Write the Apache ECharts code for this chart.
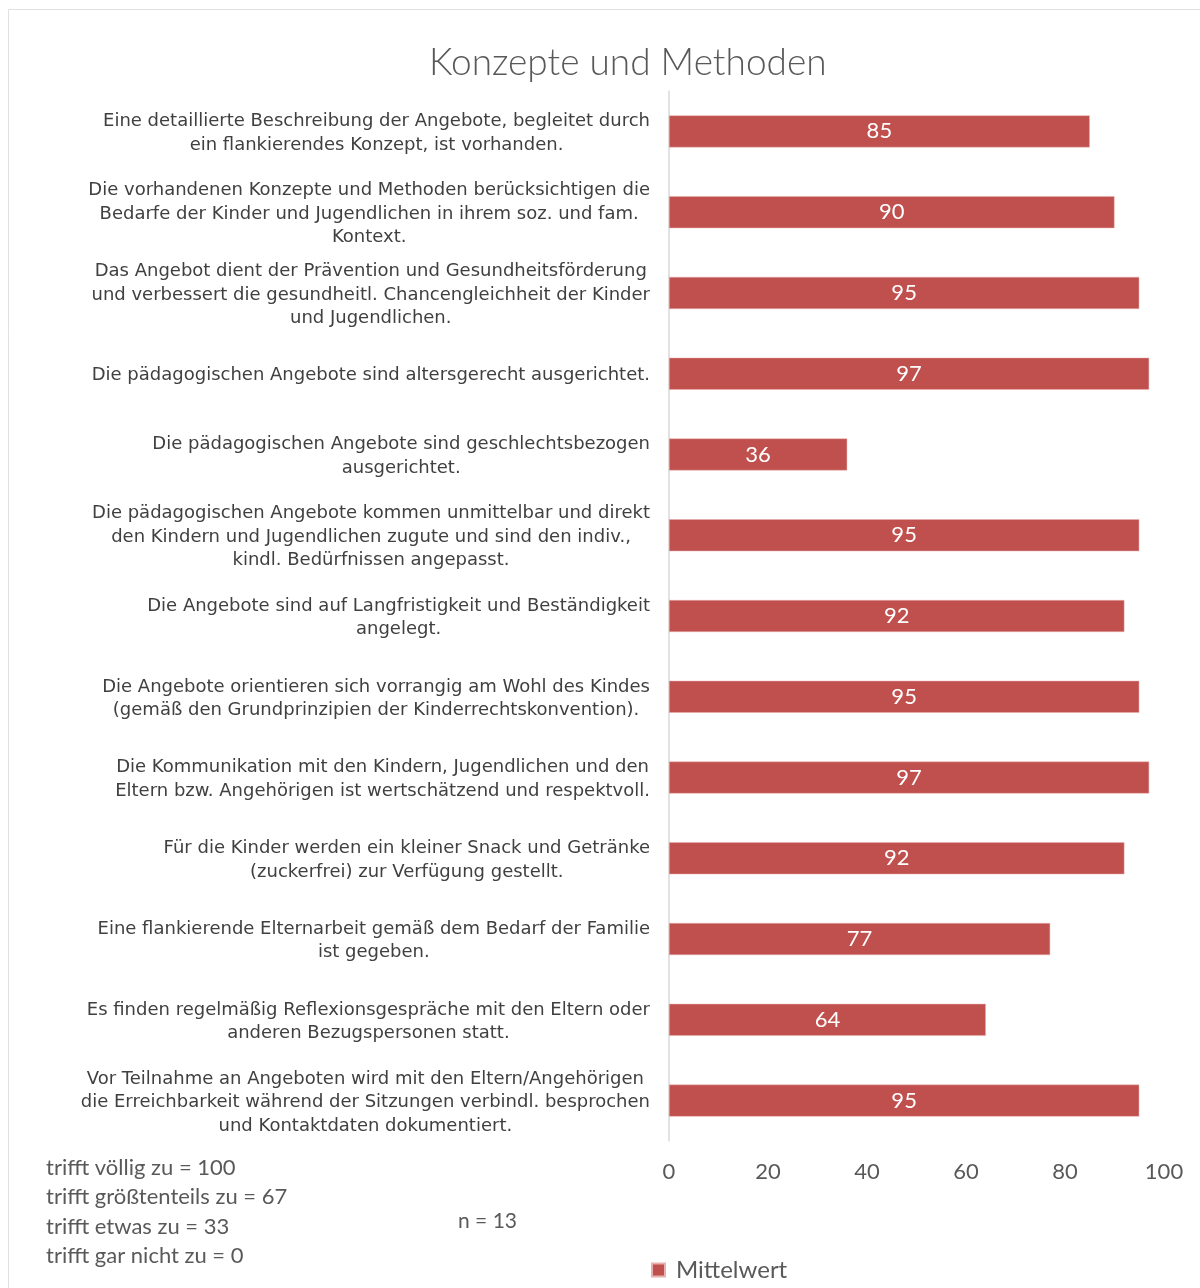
<!DOCTYPE html>
<html>
<head>
<meta charset="utf-8">
<script src="https://cdn.jsdelivr.net/npm/echarts@6/dist/echarts.min.js"></script>
<style>
  html, body { margin: 0; padding: 0; background: #fff; }
  #chart { width: 1200px; height: 1288px; }
</style>
</head>
<body>
<div id="chart"></div>
<script>
// Statements rated in the survey (line breaks as they should wrap)
const categories = [
  'Eine detaillierte Beschreibung der Angebote, begleitet durch\nein flankierendes Konzept, ist vorhanden.',
  'Die vorhandenen Konzepte und Methoden berücksichtigen die\nBedarfe der Kinder und Jugendlichen in ihrem soz. und fam.\nKontext.',
  'Das Angebot dient der Prävention und Gesundheitsförderung\nund verbessert die gesundheitl. Chancengleichheit der Kinder\nund Jugendlichen.',
  'Die pädagogischen Angebote sind altersgerecht ausgerichtet.',
  'Die pädagogischen Angebote sind geschlechtsbezogen\nausgerichtet.',
  'Die pädagogischen Angebote kommen unmittelbar und direkt\nden Kindern und Jugendlichen zugute und sind den indiv.,\nkindl. Bedürfnissen angepasst.',
  'Die Angebote sind auf Langfristigkeit und Beständigkeit\nangelegt.',
  'Die Angebote orientieren sich vorrangig am Wohl des Kindes\n(gemäß den Grundprinzipien der Kinderrechtskonvention).',
  'Die Kommunikation mit den Kindern, Jugendlichen und den\nEltern bzw. Angehörigen ist wertschätzend und respektvoll.',
  'Für die Kinder werden ein kleiner Snack und Getränke\n(zuckerfrei) zur Verfügung gestellt.',
  'Eine flankierende Elternarbeit gemäß dem Bedarf der Familie\nist gegeben.',
  'Es finden regelmäßig Reflexionsgespräche mit den Eltern oder\nanderen Bezugspersonen statt.',
  'Vor Teilnahme an Angeboten wird mit den Eltern/Angehörigen\ndie Erreichbarkeit während der Sitzungen verbindl. besprochen\nund Kontaktdaten dokumentiert.'
];

// Mean score per statement
const mittelwert = [85, 90, 95, 97, 36, 95, 92, 95, 97, 92, 77, 64, 95];

// Scale explanation and sample size
const scaleNotes = [
  'trifft völlig zu = 100',
  'trifft größtenteils zu = 67',
  'trifft etwas zu = 33',
  'trifft gar nicht zu = 0'
];
const sampleNote = 'n = 13';

const labelFont = 'DejaVu Sans';
const axisFont = 'Lato';

const chart = echarts.init(document.getElementById('chart'), null, { renderer: 'canvas' });

chart.setOption({
  backgroundColor: '#ffffff',
  animation: false,
  title: {
    text: 'Konzepte und Methoden',
    left: 424,
    top: 40,
    textStyle: { fontFamily: axisFont, fontWeight: 300, fontSize: 37, color: '#595959' }
  },
  legend: {
    data: ['Mittelwert'],
    left: 646,
    top: 1253,
    itemWidth: 13,
    itemHeight: 13,
    icon: 'rect',
    itemGap: 10,
    textStyle: { fontFamily: axisFont, fontSize: 24, color: '#595959', padding: [0, 0, 0, 6] }
  },
  grid: { left: 669, right: 36, top: 91, bottom: 147, containLabel: false },
  xAxis: {
    type: 'value',
    min: 0,
    max: 100,
    interval: 20,
    axisLine: { show: false },
    axisTick: { show: false },
    splitLine: { show: false },
    axisLabel: { margin: 20, fontFamily: axisFont, fontSize: 22, color: '#595959' }
  },
  yAxis: {
    type: 'category',
    inverse: true,
    data: categories,
    axisLine: { show: true, lineStyle: { color: '#d9d9d9', width: 1.5 } },
    axisTick: { show: false },
    axisLabel: {
      margin: 19,
      align: 'right',
      padding: [4, 0, 0, 0],
      // each line centred within the label block
      formatter: function (value) {
        return value.split('\n').map(function (line) { return '{c|' + line + '}'; }).join('\n');
      },
      rich: {
        c: {
          align: 'center',
          fontFamily: labelFont,
          fontSize: 18,
          lineHeight: 23.5,
          color: '#404040'
        }
      }
    }
  },
  series: [{
    name: 'Mittelwert',
    type: 'bar',
    data: mittelwert,
    barWidth: 32,
    itemStyle: { color: '#C0504D', borderColor: '#e8b0ae', borderWidth: 0.5 },
    label: {
      show: true,
      position: 'inside',
      color: '#ffffff',
      fontFamily: axisFont,
      fontSize: 22
    }
  }],
  graphic: [
    {
      type: 'rect',
      shape: { x: 8.5, y: 9.5, width: 1300, height: 1400 },
      style: { fill: 'none', stroke: '#e0e0e0', lineWidth: 1 },
      silent: true
    },
    {
      type: 'text',
      left: 46,
      top: 1153,
      style: {
        text: scaleNotes.join('\n'),
        fontFamily: axisFont,
        fontSize: 22,
        lineHeight: 29.5,
        fill: '#595959'
      }
    },
    {
      type: 'text',
      left: 458,
      top: 1211,
      style: { text: sampleNote, fontFamily: axisFont, fontSize: 21, fill: '#595959' }
    }
  ]
});
</script>
</body>
</html>
